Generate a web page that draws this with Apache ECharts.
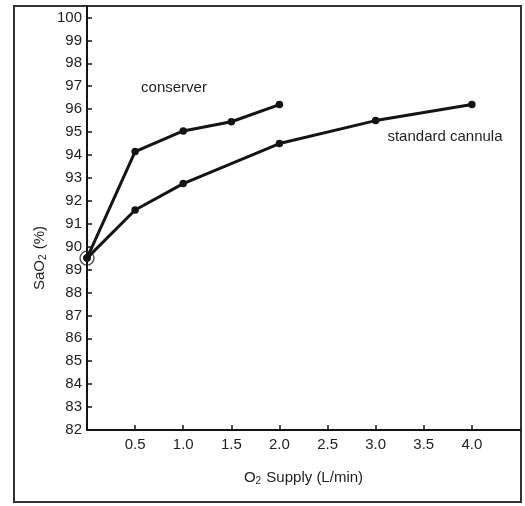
<!DOCTYPE html>
<html>
<head>
<meta charset="utf-8">
<script src="https://cdn.jsdelivr.net/npm/echarts@6/dist/echarts.min.js"></script>
<style>
  html, body { margin: 0; padding: 0; background: #fff; }
  #chart { width: 525px; height: 506px; }
</style>
</head>
<body>
<div id="chart"></div>
<script>
// Oxygen supply (L/min) against arterial saturation SaO2 (%)
const conserverFlow = [0, 0.5, 1.0, 1.5, 2.0];
const conserverSaO2 = [89.5, 94.15, 95.05, 95.45, 96.2];
const cannulaFlow = [0, 0.5, 1.0, 2.0, 3.0, 4.0];
const cannulaSaO2 = [89.5, 91.6, 92.75, 94.5, 95.5, 96.2];
const baselinePoint = [0, 89.5];
const xTickValues = [0.5, 1.0, 1.5, 2.0, 2.5, 3.0, 3.5, 4.0];
const yTickValues = [82, 83, 84, 85, 86, 87, 88, 89, 90, 91, 92, 93, 94, 95, 96, 97, 98, 99, 100];

const ink = '#141414';
const textInk = '#1e1e1e';
const fontFamily = '"Liberation Sans", Arial, Helvetica, sans-serif';

const pairs = (xs, ys) => xs.map((x, i) => [x, ys[i]]);

const lineSeries = (name, xs, ys) => ({
  name,
  type: 'line',
  data: pairs(xs, ys),
  symbol: 'circle',
  symbolSize: 7.5,
  lineStyle: { color: ink, width: 3 },
  itemStyle: { color: ink },
  animation: false,
  z: 3
});

const chart = echarts.init(document.getElementById('chart'), null, { renderer: 'canvas' });

chart.setOption({
  backgroundColor: '#fff',
  animation: false,
  grid: { left: 87, top: 6, right: 5, bottom: 76 },
  xAxis: {
    type: 'value',
    min: 0,
    max: 4.5,
    name: '{n|O}{s|2}{n| Supply (L/min)}',
    nameLocation: 'middle',
    nameGap: 40,
    nameTextStyle: {
      rich: {
        n: { fontFamily, fontSize: 15, color: textInk },
        s: { fontFamily, fontSize: 10, color: textInk, verticalAlign: 'bottom', padding: [6, 1, 0, 0] }
      }
    },
    axisLine: { lineStyle: { color: ink, width: 2 } },
    axisTick: { show: true, inside: true, length: 5, customValues: xTickValues, lineStyle: { color: ink, width: 1.5 } },
    axisLabel: {
      customValues: xTickValues,
      formatter: v => Number(v).toFixed(1),
      margin: 7,
      fontFamily, fontSize: 15, color: textInk
    },
    splitLine: { show: false }
  },
  yAxis: {
    type: 'value',
    min: 82,
    max: 100.5,
    axisLine: { show: true, lineStyle: { color: ink, width: 2 } },
    axisTick: { show: true, inside: true, length: 5, customValues: yTickValues, lineStyle: { color: ink, width: 1.5 } },
    axisLabel: {
      customValues: yTickValues,
      margin: 5,
      fontFamily, fontSize: 15, color: textInk
    },
    splitLine: { show: false }
  },
  graphic: [
    {
      type: 'rect',
      shape: { x: 14, y: 6, width: 507, height: 496 },
      style: { fill: 'none', stroke: '#333', lineWidth: 2 },
      z: -1
    },
    {
      type: 'text',
      x: 40, y: 258,
      rotation: Math.PI / 2,
      style: {
        text: '{n|SaO}{s|2}{n| (%)}',
        align: 'center',
        verticalAlign: 'middle',
        rich: {
          n: { fontFamily, fontSize: 15, fill: textInk },
          s: { fontFamily, fontSize: 10, fill: textInk, verticalAlign: 'bottom', padding: [6, 1, 0, 0] }
        }
      }
    },
    {
      type: 'text',
      x: 174, y: 88,
      style: { text: 'conserver', fontFamily, fontSize: 15, fill: textInk, align: 'center', verticalAlign: 'middle' }
    },
    {
      type: 'text',
      x: 445, y: 137,
      style: { text: 'standard cannula', fontFamily, fontSize: 15, fill: textInk, align: 'center', verticalAlign: 'middle' }
    }
  ],
  series: [
    lineSeries('conserver', conserverFlow, conserverSaO2),
    lineSeries('standard cannula', cannulaFlow, cannulaSaO2),
    {
      name: 'baseline',
      type: 'scatter',
      data: [baselinePoint],
      symbol: 'circle',
      symbolSize: 14,
      itemStyle: { color: 'rgba(0,0,0,0)', borderColor: '#222', borderWidth: 1.4 },
      animation: false,
      z: 4
    }
  ]
});
</script>
</body>
</html>
